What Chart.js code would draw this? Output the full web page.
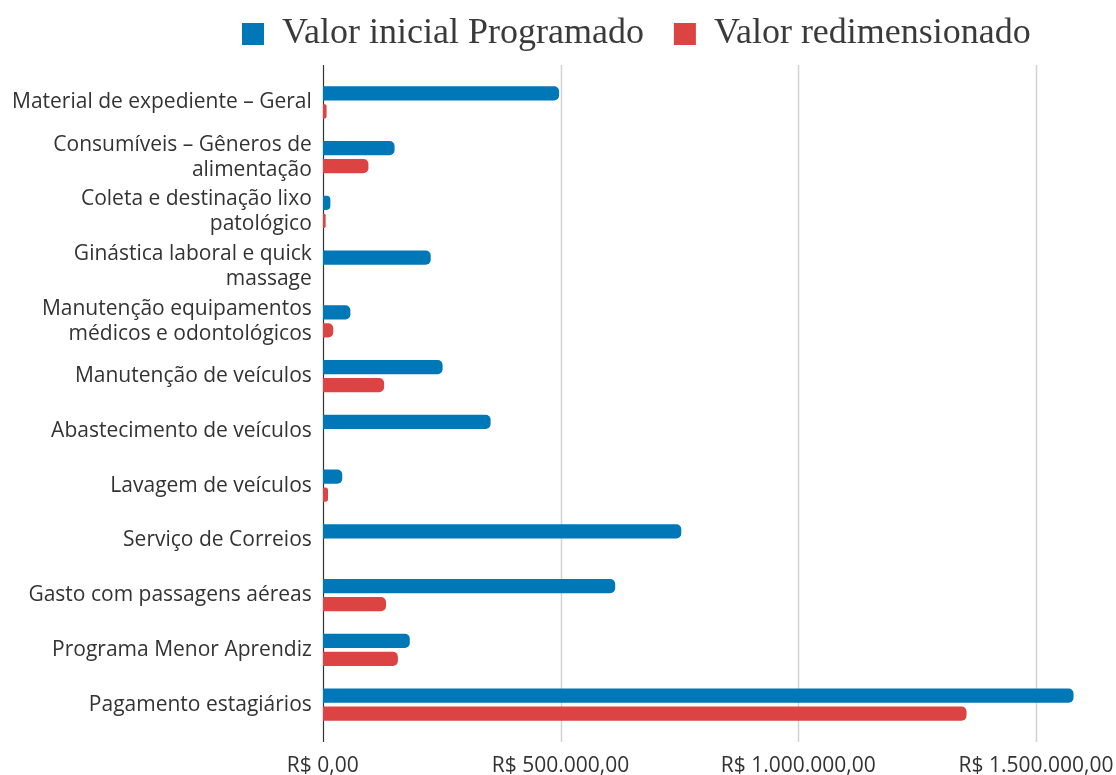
<!DOCTYPE html>
<html>
<head>
<meta charset="utf-8">
<script src="https://cdn.jsdelivr.net/npm/chart.js@4.4.0/dist/chart.umd.min.js"></script>
<style>
  html, body { margin: 0; padding: 0; background: #fff; }
  #wrap { width: 1116px; height: 775px; }
</style>
</head>
<body>
<div id="wrap"><canvas id="chart"></canvas></div>
<script>
const categories = [
  'Material de expediente – Geral',
  ['Consumíveis – Gêneros de', 'alimentação'],
  ['Coleta e destinação lixo', 'patológico'],
  ['Ginástica laboral e quick', 'massage'],
  ['Manutenção equipamentos', 'médicos e odontológicos'],
  'Manutenção de veículos',
  'Abastecimento de veículos',
  'Lavagem de veículos',
  'Serviço de Correios',
  'Gasto com passagens aéreas',
  'Programa Menor Aprendiz',
  'Pagamento estagiários'
];

const valorInicial = [497000, 151000, 16000, 227000, 58000, 252000, 353000, 41000, 754000, 615000, 183000, 1579000];
const valorRedimensionado = [8000, 96000, 6000, 0, 22000, 129000, 0, 11000, 0, 133000, 158000, 1354000];

const seriesNames = ['Valor inicial Programado', 'Valor redimensionado'];
const xTicks = [0, 500000, 1000000, 1500000];

const blue = '#0077b6';
const red = '#dc4343';
const textColor = '#333333';
const sansFont = '"Open Sans", "DejaVu Sans", sans-serif';

function formatBRL(v) {
  const [intPart, dec] = v.toFixed(2).split('.');
  return 'R$ ' + intPart.replace(/\B(?=(\d{3})+(?!\d))/g, '.') + ',' + dec;
}

// grid lines and the axis run a little past the category band, as in the original
const axisLines = {
  id: 'axisLines',
  beforeDatasetsDraw(chart) {
    const { ctx, chartArea, scales } = chart;
    const top = chartArea.top - 10;
    const bottom = chartArea.bottom + 10;
    ctx.save();
    ctx.strokeStyle = '#d2d2d2';
    ctx.lineWidth = 1.5;
    xTicks.slice(1).forEach(v => {
      const x = Math.round(scales.x.getPixelForValue(v)) + 0.5;
      ctx.beginPath();
      ctx.moveTo(x, top);
      ctx.lineTo(x, bottom);
      ctx.stroke();
    });
    const x0 = Math.round(scales.x.getPixelForValue(0)) + 0.5;
    ctx.strokeStyle = '#333';
    ctx.lineWidth = 1.2;
    ctx.beginPath();
    ctx.moveTo(x0, top);
    ctx.lineTo(x0, bottom);
    ctx.stroke();
    ctx.restore();
  }
};

const legendShift = {
  id: 'legendShift',
  afterLayout(chart) {
    const legend = chart.legend;
    const dx = 242 - legend.left - 30;
    legend.left += dx;
    legend.right += dx;
    legend.top -= 13;
    legend.bottom -= 13;
  }
};

const data = {
  labels: categories,
  datasets: [
    {
      label: seriesNames[0],
      data: valorInicial,
      backgroundColor: blue,
      borderRadius: 5,
      categoryPercentage: 0.66,
      barPercentage: 0.78,
    },
    {
      label: seriesNames[1],
      data: valorRedimensionado,
      backgroundColor: red,
      borderRadius: 5,
      categoryPercentage: 0.66,
      barPercentage: 0.78,
    },
  ],
};

new Chart(document.getElementById('chart'), {
  type: 'bar',
  data,
  plugins: [axisLines, legendShift],
  options: {
    indexAxis: 'y',
    responsive: true,
    maintainAspectRatio: false,
    animation: false,
    layout: {
      padding: { top: -1, left: 1, right: 3, bottom: -26 },
    },
    plugins: {
      legend: {
        position: 'top',
        align: 'start',
        labels: {
          boxWidth: 22,
          boxHeight: 22,
          padding: 30,
          color: '#3a3a3a',
          font: { family: '"Liberation Serif", "DejaVu Serif", serif', size: 36 },
        },
      },
      tooltip: { enabled: false },
    },
    scales: {
      x: {
        min: 0,
        max: 1662000,
        border: { display: false },
        grid: { display: false, drawTicks: false },
        afterBuildTicks(scale) {
          scale.ticks = xTicks.map(v => ({ value: v }));
        },
        afterFit(scale) {
          scale.paddingRight = 0;
        },
        ticks: {
          padding: 24,
          color: textColor,
          font: { family: sansFont, size: 21, lineHeight: 1 },
          callback: (v) => formatBRL(v),
          maxRotation: 0,
        },
      },
      y: {
        border: { display: false },
        grid: { display: false, drawTicks: false },
        ticks: {
          autoSkip: false,
          padding: 11,
          color: textColor,
          font: { family: sansFont, size: 21, lineHeight: 1.2 },
        },
      },
    },
  },
});
</script>
</body>
</html>
